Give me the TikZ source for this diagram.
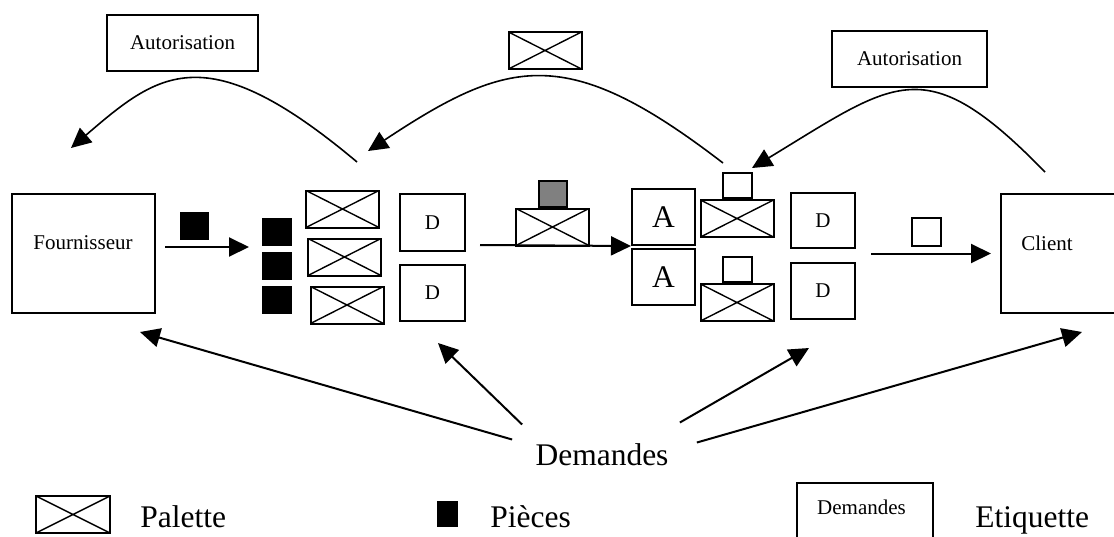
\documentclass[tikz,border=0pt]{standalone}
\usepackage{fontspec}
\setmainfont{Liberation Serif}
\usetikzlibrary{positioning,arrows.meta}
\tikzset{
  lbl/.style={font=\fontsize{10.5}{12}\selectfont},
  biglbl/.style={font=\fontsize{15.75}{18}\selectfont},
  box/.style={draw, line width=1pt, inner sep=0pt, minimum width=#1},
  box/.default=32pt,
  pal/.style={draw, line width=1pt, inner sep=0pt, minimum width=36.5pt, minimum height=18.5pt,
    path picture={\draw[line width=0.7pt] (path picture bounding box.north west) -- (path picture bounding box.south east)
      (path picture bounding box.south west) -- (path picture bounding box.north east);}},
  piece/.style={fill=black, inner sep=0pt, minimum width=15pt, minimum height=14pt},
  tag/.style={draw, line width=1pt, fill=white, inner sep=0pt, minimum width=14.5pt, minimum height=12.5pt},
  flow/.style={line width=1pt, -{Triangle[length=10pt,width=9.5pt]}},
  back/.style={line width=0.8pt, -{Triangle[length=10pt,width=9.5pt]}},
}

\begin{document}
\begin{tikzpicture}[x=0.5pt, y=-0.5pt]
\useasboundingbox (0,0) rectangle (1114,536);
\clip (0,0) rectangle (1114,536);

% ---- Fournisseur ----
\node[box=71.5pt, minimum height=59.5pt] (fourn) at (83.5,253.5) {};
\node[lbl] (fourntxt) at (83,243) {Fournisseur};
\node[piece, minimum width=14.5pt] (pcm) at (194.5,226) {};
\coordinate (f1e) at (249,247);
\draw[flow] ([shift={(9,-6.5)}]fourn.east) -- (f1e);

% ---- Stock amont ----
\foreach \i/\y in {1/232,2/266,3/300}
  \node[piece] (pc\i) at (277,\y) {};
\node[pal] (pl1) at (342.5,209) {};
\node[pal] (pl2) at (344.5,257) {};
\node[pal] (pl3) at (347,305) {};
\node[box=32.5pt, minimum height=28.5pt, lbl] (dl1) at (432.5,222.5) {D};
\node[box=32.5pt, minimum height=28pt, lbl] (dl2) at (432.5,293) {D};

% ---- Stock aval ----
\node[box=31.5pt, minimum height=28pt, biglbl] (aa1) at (663.5,217) {A};
\node[box=31.5pt, minimum height=28pt, biglbl] (aa2) at (663.5,277) {A};
\node[pal] (pr1) at (737,218.5) {};
\node[tag, above=0pt of pr1] (tg1) {};
\node[pal] (pr2) at (737,302.5) {};
\node[tag, above=0pt of pr2] (tg2) {};
\node[box=32pt, minimum height=27.5pt, lbl] (dr1) at (823,220.5) {D};
\node[box=32pt, minimum height=28pt, lbl] (dr2) at (823,291) {D};

% ---- Transport ----
\coordinate (f2s) at (480,245);
\draw[flow] (f2s) -- (aa1.south west);
\node[pal] (plm) at (552.5,227) {};
\node[tag, fill=gray, minimum width=14pt, minimum height=13pt, above=0pt of plm] (grm) {};

% ---- Client ----
\node[box=59.5pt, minimum height=59.5pt] (client) at (1060.5,253.5) {};
\node[lbl] (clienttxt) at (1047,243) {Client};
\node[tag, minimum height=14pt] (tgm) at (926.5,232) {};
\draw[flow] ([xshift=-64.5pt]client.west) -- ([xshift=-4.5pt]client.west);

% ---- Retours ----
\node[box=75.5pt, minimum height=28pt, lbl] (aut1) at (182.5,43) {Autorisation};
\node[pal] (plt) at (545,50.5) {};
\node[box=77.5pt, minimum height=28pt, lbl] (aut2) at (909.5,59) {Autorisation};
\coordinate (r1s) at (357,162);
\coordinate (r1e) at (71,148);
\draw[back] (r1s) .. controls (205.5,34.7) and (158.5,72.7) .. (r1e);
\coordinate (r2s) at (723,163);
\coordinate (r2e) at (368,151);
\draw[back] (r2s) .. controls (567,43) and (509,57.5) .. (r2e);
\coordinate (r3s) at (1045,172);
\coordinate (r3e) at (752,168);
\draw[back] (r3s) .. controls (925,49) and (897,80) .. (r3e);

% ---- Demandes ----
\node[biglbl, inner sep=0pt] (dem) at (602,455) {Demandes};
\coordinate (dq1) at (140,332);
\coordinate (dq2) at (438,343);
\coordinate (dq3) at (809,348);
\coordinate (dq4) at (1082,332);
\draw[flow] ([shift={(-23,-4)}]dem.north west) -- (dq1);
\draw[flow] ([shift={(-13,-19)}]dem.north west) -- (dq2);
\draw[flow] ([shift={(11,-21)}]dem.north east) -- (dq3);
\draw[flow] ([shift={(28,-1)}]dem.north east) -- (dq4);

% ---- Legende ----
\node[pal, minimum width=37pt] (lgpal) at (73,514.5) {};
\node[biglbl, anchor=base west, inner sep=0pt] (lgpaltxt) at (140,527) {Palette};
\node[piece, minimum width=10.5pt, minimum height=13pt] (lgpc) at (447.5,514) {};
\node[biglbl, anchor=base west, inner sep=0pt] (lgpctxt) at (490,527) {Pièces};
\node[box=68pt, minimum height=40pt] (lgdem) at (865,523) {};
\node[lbl] (lgdemtxt) at (861.5,507.5) {Demandes};
\node[biglbl, anchor=base west, inner sep=0pt] (lgetq) at (975,527) {Etiquette};

\end{tikzpicture}
\end{document}
